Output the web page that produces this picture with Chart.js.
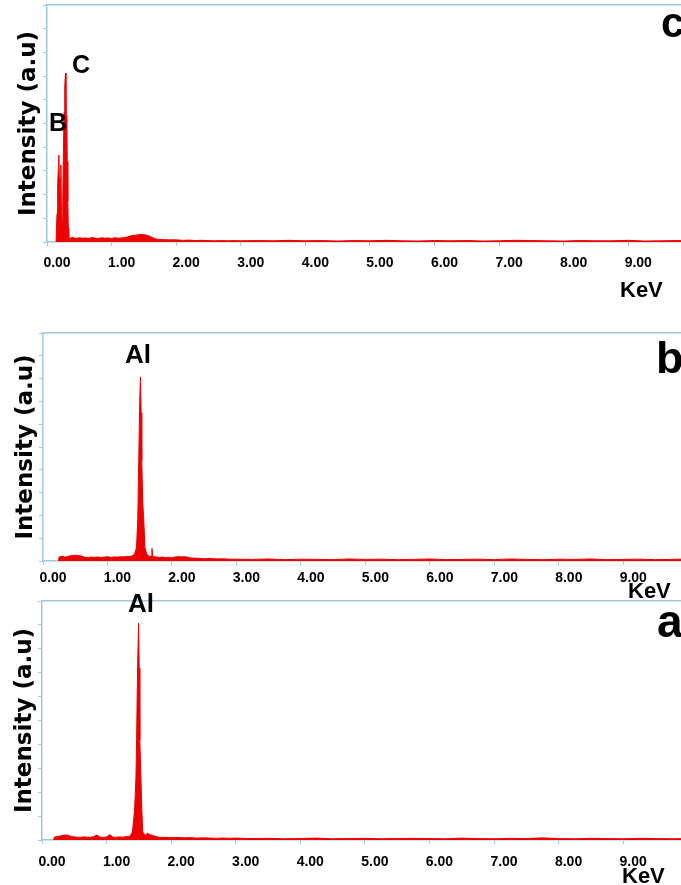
<!DOCTYPE html>
<html><head><meta charset="utf-8">
<script src="https://cdn.jsdelivr.net/npm/chart.js@4.4.1/dist/chart.umd.min.js"></script>
<style>
html,body{margin:0;padding:0;background:#fff;overflow:hidden;width:681px;height:885px;position:relative;}
canvas{position:absolute;left:0;}
</style></head><body>
<canvas id="pc" width="720" height="300" style="top:0px;width:720px;height:300px"></canvas>
<canvas id="pb" width="720" height="279" style="top:320px;width:720px;height:279px"></canvas>
<canvas id="pa" width="720" height="295" style="top:590px;width:720px;height:295px"></canvas>
<script>
// ---- tick labels ----
const xTickLabels = ['0.00','1.00','2.00','3.00','4.00','5.00','6.00','7.00','8.00','9.00'];
const yTitle = 'Intensity (a.u)';
const xTitle = 'KeV';

// common tail energies (keV)
const tailEnergy = [3.25,3.5,3.75,4.0,4.25,4.5,4.75,5.0,5.25,5.5,5.75,6.0,6.25,6.5,6.75,7.0,7.25,7.5,7.75,8.0,8.25,8.5,8.75,9.0,9.25,9.5,9.75,10.0,10.25,10.5];

// ---- panel c : B and C peaks ----
const energyC = [0.14,0.147,0.155,0.165,0.175,0.183,0.19,0.2,0.208,0.214,0.222,0.235,0.245,0.255,0.265,0.275,0.286,0.294,0.3,0.306,0.314,0.322,0.33,0.337,
  0.35,0.4,0.45,0.5,0.55,0.6,0.65,0.7,0.75,0.8,0.85,0.9,0.95,1.0,1.05,1.1,1.15,1.2,1.25,1.3,1.35,1.4,1.45,1.5,1.55,1.6,1.65,1.7,1.75,1.8,
  1.9,2.0,2.1,2.2,2.3,2.4,2.5,2.6,2.7,2.8,2.9,3.0].concat(tailEnergy);
const countsC = [0,0,12,24,31,36.7,27,18,25,32.5,17,8,20,40,55,66,71.3,54,47,53.6,34,17,6,1.8,
  1.6,1.9,1.5,1.8,1.6,1.7,1.5,1.9,1.6,1.5,1.8,1.6,1.7,1.5,1.8,1.6,1.7,1.9,2.2,2.6,2.8,3.0,3.2,3.1,2.8,2.3,1.6,1.2,1.1,1.0,
  0.9,0.9,0.7,0.8,0.6,0.7,0.6,0.5,0.6,0.5,0.6,0.5,
  0.6,0.5,0.7,0.5,0.6,0.4,0.6,0.5,0.7,0.5,0.4,0.6,0.5,0.6,0.4,0.5,0.7,0.6,0.5,0.4,0.6,0.5,0.5,0.7,0.4,0.5,0.6,0.5,0.4,0.5];

// ---- panel b : Al peak ----
const energyB = [0.24,0.25,0.3,0.35,0.4,0.45,0.5,0.55,0.6,0.65,0.7,0.75,0.8,0.85,0.9,0.95,1.0,1.05,1.1,1.15,1.2,1.25,1.3,1.35,
  1.38,1.42,1.45,1.47,1.485,1.5,1.512,1.522,1.532,1.548,1.563,1.58,1.61,1.65,1.68,1.69,1.7,
  1.75,1.8,1.85,1.9,1.95,2.0,2.05,2.1,2.15,2.2,2.25,2.3,2.4,2.5,2.6,2.7,2.8,2.9,3.0].concat(tailEnergy);
const countsB = [0,1.8,2.0,1.7,2.1,2.4,2.5,2.4,2.2,1.6,1.5,1.7,1.6,1.8,1.5,1.7,1.9,1.6,1.8,1.7,1.9,1.8,2.0,1.9,
  2.2,3,6,18,44,70,80.7,65,44,25,18,6,3,2.0,2.2,5.5,2.0,
  1.8,1.6,1.7,1.5,1.6,1.4,1.8,1.9,1.8,1.9,1.6,1.3,1.2,1.0,1.1,0.9,1.0,0.8,0.8,
  0.7,0.9,0.6,0.8,0.7,0.6,0.9,0.7,0.8,0.6,0.7,0.9,0.6,0.7,0.8,0.6,0.9,0.7,0.6,0.8,0.7,0.9,0.6,0.7,0.8,0.6,0.7,0.9,0.7,0.6];

// ---- panel a : Al peak ----
const energyA = [0.18,0.19,0.25,0.3,0.35,0.4,0.45,0.5,0.55,0.6,0.65,0.7,0.75,0.8,0.85,0.9,0.95,1.0,1.05,1.1,1.15,1.2,1.25,1.3,
  1.36,1.4,1.434,1.455,1.465,1.48,1.496,1.505,1.515,1.532,1.547,1.56,1.6,1.63,1.68,1.72,
  1.8,1.9,2.0,2.1,2.2,2.3,2.4,2.5,2.6,2.7,2.8,2.9,3.0].concat(tailEnergy);
const countsA = [0,1.2,1.5,1.8,2.1,2.0,1.5,1.3,1.2,1.1,1.3,1.2,1.1,1.4,2.1,1.2,1.1,1.3,2.2,1.2,1.1,1.3,1.2,1.4,
  1.5,3.3,12.5,26,42,72,90.8,72,42,26,12,3.3,2.0,2.8,2.2,1.8,
  1.2,1.1,1.0,1.1,0.9,1.0,0.8,0.9,0.8,0.7,0.8,0.7,0.8,
  0.6,0.7,0.5,0.6,0.8,0.5,0.6,0.7,0.5,0.6,0.7,0.6,0.5,0.8,0.6,0.5,0.7,0.6,0.9,0.6,0.5,0.7,0.6,0.5,0.7,0.6,0.5,0.6,0.7,0.5];

const AXIS = '#9fc7de';
const RED = 'rgb(236,0,0)';
const BOLD = '"Liberation Sans", Arial, sans-serif';

function textPlugin(texts){
  return {
    id:'panelTexts',
    afterDraw(chart){
      const ctx = chart.ctx;
      ctx.save();
      ctx.fillStyle = '#000';
      ctx.textAlign = 'left';
      ctx.textBaseline = 'alphabetic';
      texts.forEach(t => {
        ctx.font = 'bold ' + t.size + 'px ' + BOLD;
        ctx.fillText(t.text, t.x, t.y);
      });
      ctx.restore();
    }
  };
}

function makePanel(id, energy, counts, cfg){
  const n = Math.min(energy.length, counts.length);
  const pts = [];
  for (let i = 0; i < n; i++) pts.push({x: energy[i], y: counts[i]});
  return new Chart(document.getElementById(id), {
    type: 'line',
    data: { datasets: [{ data: pts, borderColor: RED, backgroundColor: RED, borderWidth: 1,
      pointRadius: 0, fill: 'origin', tension: 0 }] },
    options: {
      responsive: false, animation: false, devicePixelRatio: 1,
      layout: { padding: { top: cfg.top, left: 0, right: 0, bottom: 0 } },
      plugins: { legend: { display: false }, tooltip: { enabled: false } },
      scales: {
        x: {
          type: 'linear', position: 'bottom', min: 0, max: cfg.xmax,
          afterFit: s => { s.height = cfg.xh; },
          ticks: { stepSize: 1, includeBounds: false, autoSkip: false, maxRotation: 0,
            labelOffset: 10, padding: cfg.tp, color: '#000',
            font: { family: BOLD, size: 14, weight: 'bold' },
            callback: v => (xTickLabels[v] !== undefined ? xTickLabels[v] : '') },
          grid: { drawOnChartArea: false, drawTicks: true, tickLength: 4, color: AXIS, tickColor: AXIS },
          border: { color: AXIS, width: 1.5 }
        },
        x2: {
          type: 'linear', position: 'top', min: 0, max: cfg.xmax, display: true,
          afterFit: s => { s.height = 0; },
          ticks: { display: false },
          grid: { display: false, drawTicks: false },
          border: { display: true, color: AXIS, width: 1.5 }
        },
        y: {
          min: 0, max: 100,
          afterFit: s => { s.width = cfg.yw; },
          ticks: { stepSize: 10, display: false },
          grid: { drawOnChartArea: false, tickLength: 4, color: AXIS, tickColor: AXIS },
          border: { color: AXIS, width: 1.5 },
          title: { display: true, text: yTitle, color: '#000',
            font: { family: '"DejaVu Sans", sans-serif', size: 23, weight: 'bold' },
            padding: { top: cfg.tpad, bottom: 0 } }
        }
      }
    },
    plugins: [textPlugin(cfg.texts)]
  });
}

makePanel('pc', energyC, countsC, {
  top: 5, xh: 58, yw: 47, tp: 9, tpad: 15, xmax: 10.42,
  texts: [
    {text: 'C', size: 25, x: 72, y: 73},
    {text: 'B', size: 25, x: 49, y: 131},
    {text: 'c', size: 42, x: 661, y: 37},
    {text: xTitle, size: 22, x: 620, y: 297}
  ]
});
makePanel('pb', energyB, countsB, {
  top: 13, xh: 38, yw: 43, tp: 5, tpad: 12, xmax: 10.5,
  texts: [
    {text: 'Al', size: 26, x: 125, y: 43},
    {text: 'b', size: 45, x: 656, y: 53},
    {text: xTitle, size: 22, x: 628, y: 278}
  ]
});
makePanel('pa', energyA, countsA, {
  top: 11, xh: 45, yw: 42, tp: 10, tpad: 11, xmax: 10.5,
  texts: [
    {text: 'Al', size: 26, x: 128, y: 22},
    {text: 'a', size: 46, x: 657, y: 47},
    {text: xTitle, size: 22, x: 622, y: 293}
  ]
});
</script>
</body></html>
